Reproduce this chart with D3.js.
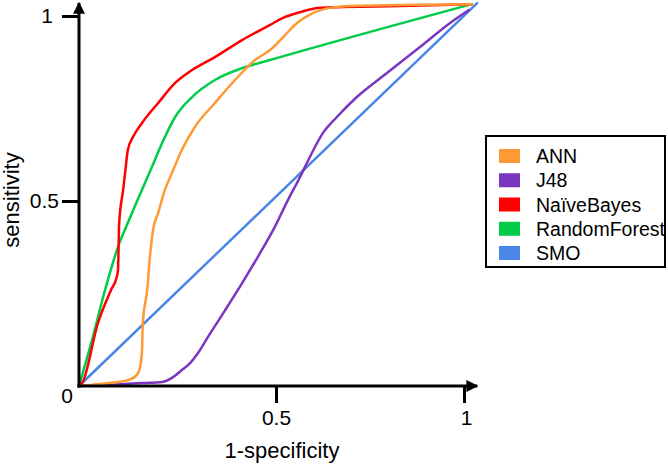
<!DOCTYPE html>
<html>
<head>
<meta charset="utf-8">
<script src="https://cdn.jsdelivr.net/npm/d3@7"></script>
<style>
  html, body { margin: 0; padding: 0; background: #fff; }
  svg { display: block; font-family: "Liberation Sans", Arial, sans-serif; }
</style>
</head>
<body>
<svg id="chart" width="668" height="468"></svg>
<script>
// ---- data ----
const seriesNames = ["ANN", "J48", "NaïveBayes", "RandomForest", "SMO"];
const seriesColors = ["#FF9933", "#7B36C0", "#FF0000", "#00CC4A", "#4A86E8"];

const annFpr = [0, 0.074, 0.124, 0.147, 0.155, 0.160, 0.162, 0.173, 0.180, 0.188, 0.201, 0.218, 0.236, 0.261, 0.294, 0.345, 0.396, 0.447, 0.485, 0.519, 0.556, 0.598, 0.644, 0.697, 1.021];
const annTpr = [0, 0.008, 0.016, 0.030, 0.051, 0.097, 0.170, 0.259, 0.349, 0.422, 0.468, 0.530, 0.576, 0.638, 0.700, 0.765, 0.827, 0.881, 0.908, 0.943, 0.981, 1.008, 1.022, 1.027, 1.032];

const j48Fpr = [0, 0.074, 0.160, 0.211, 0.236, 0.261, 0.282, 0.302, 0.327, 0.371, 0.414, 0.454, 0.497, 0.532, 0.564, 0.590, 0.625, 0.662, 0.715, 0.795, 0.883, 0.963, 1.013];
const j48Tpr = [0, 0.003, 0.008, 0.011, 0.022, 0.043, 0.062, 0.089, 0.132, 0.205, 0.278, 0.349, 0.430, 0.503, 0.565, 0.619, 0.684, 0.727, 0.781, 0.846, 0.916, 0.981, 1.016];

const nbFpr = [0, 0.008, 0.048, 0.081, 0.096, 0.099, 0.102, 0.112, 0.117, 0.124, 0.137, 0.160, 0.201, 0.244, 0.287, 0.345, 0.414, 0.485, 0.519, 0.556, 0.617, 0.678, 0.830, 1.021];
const nbTpr = [0, 0.008, 0.170, 0.259, 0.295, 0.314, 0.441, 0.530, 0.576, 0.638, 0.673, 0.711, 0.765, 0.819, 0.854, 0.889, 0.935, 0.976, 0.995, 1.008, 1.022, 1.024, 1.027, 1.032];

const rfFpr = [0, 0.033, 0.066, 0.099, 0.124, 0.152, 0.185, 0.218, 0.244, 0.287, 0.345, 0.414, 0.485, 1.021];
const rfTpr = [0, 0.124, 0.259, 0.376, 0.441, 0.511, 0.592, 0.673, 0.727, 0.781, 0.827, 0.859, 0.881, 1.032];

const smoFpr = [0, 1.035];
const smoTpr = [0, 1.035];

const xTicks = [0.5, 1];
const yTicks = [0.5, 1];
const xLabel = "1-specificity";
const yLabel = "sensitivity";
const originLabel = "0";

// ---- build ----
const series = [
  { name: seriesNames[0], color: seriesColors[0], fpr: annFpr, tpr: annTpr },
  { name: seriesNames[1], color: seriesColors[1], fpr: j48Fpr, tpr: j48Tpr },
  { name: seriesNames[2], color: seriesColors[2], fpr: nbFpr, tpr: nbTpr },
  { name: seriesNames[3], color: seriesColors[3], fpr: rfFpr, tpr: rfTpr },
  { name: seriesNames[4], color: seriesColors[4], fpr: smoFpr, tpr: smoTpr }
];

const svg = d3.select("#chart");
const x = d3.scaleLinear().domain([0, 0.5, 1]).range([79, 276, 464]);
const y = d3.scaleLinear().domain([0, 0.5, 1]).range([386, 201, 16]);

const FONT = 21;

// series lines (draw order: SMO, J48, RandomForest, NaiveBayes, ANN)
const line = d3.line().x(d => x(d[0])).y(d => y(d[1])).curve(d3.curveMonotoneX);
const drawOrder = [4, 1, 3, 2, 0];
const gLines = svg.append("g");
drawOrder.forEach(i => {
  const s = series[i];
  const pts = s.fpr.map((v, k) => [v, s.tpr[k]]);
  gLines.append("path")
    .attr("d", line(pts))
    .attr("fill", "none")
    .attr("stroke", s.color)
    .attr("stroke-width", 2.5)
    .attr("stroke-linejoin", "round")
    .attr("stroke-linecap", "round");
});

// arrow marker
svg.append("defs").append("marker")
  .attr("id", "arrow")
  .attr("viewBox", "0 0 10 10")
  .attr("refX", 9).attr("refY", 5)
  .attr("markerWidth", 4).attr("markerHeight", 4)
  .attr("markerUnits", "strokeWidth")
  .attr("orient", "auto")
  .append("path").attr("d", "M0,0 L10,5 L0,10 z").attr("fill", "#000");

// axes
const xAxis = d3.axisBottom(x).tickValues(xTicks).tickFormat(d3.format("")).tickSize(17).tickPadding(7).tickSizeOuter(0);
const yAxis = d3.axisLeft(y).tickValues(yTicks).tickFormat(d3.format("")).tickSize(17).tickPadding(3).tickSizeOuter(0);

const gx = svg.append("g").attr("transform", `translate(0,${y(0)})`).call(xAxis);
const gy = svg.append("g").attr("transform", `translate(${x(0)},0)`).call(yAxis);
[gx, gy].forEach(g => {
  g.select(".domain").remove();
  g.selectAll(".tick line").attr("stroke", "#000").attr("stroke-width", 3);
  g.selectAll(".tick text").attr("fill", "#000").style("font-size", FONT + "px")
    .style("font-family", "'Liberation Sans', Arial, sans-serif");
});
// the "1" label on the y axis sits further from its tick in the reference
gy.selectAll(".tick text").filter(d => d === 1).attr("x", -26);
gx.selectAll(".tick text").filter(d => d === 1).attr("dx", 2);

svg.append("line")
  .attr("x1", x(0) - 1.5).attr("y1", y(0))
  .attr("x2", x(1.035)).attr("y2", y(0))
  .attr("stroke", "#000").attr("stroke-width", 3)
  .attr("marker-end", "url(#arrow)");
svg.append("line")
  .attr("x1", x(0)).attr("y1", y(0) + 1.5)
  .attr("x2", x(0)).attr("y2", y(1.035))
  .attr("stroke", "#000").attr("stroke-width", 3)
  .attr("marker-end", "url(#arrow)");

// origin label
svg.append("text").attr("x", 67).attr("y", 403)
  .attr("text-anchor", "middle").style("font-size", FONT + "px").text(originLabel);

// axis titles
svg.append("text").attr("x", 282).attr("y", 458)
  .attr("text-anchor", "middle").style("font-size", "22px").text(xLabel);
svg.append("text")
  .attr("transform", `translate(19,200) rotate(-90)`)
  .attr("text-anchor", "middle").style("font-size", "22px").text(yLabel);

// legend
const legend = svg.append("g");
legend.append("rect")
  .attr("x", 486).attr("y", 136).attr("width", 179).attr("height", 131)
  .attr("fill", "#fff").attr("stroke", "#000").attr("stroke-width", 2);
const legendY = d3.scalePoint().domain(seriesNames).range([156, 253]);
series.forEach(s => {
  const cy = legendY(s.name);
  legend.append("rect").attr("x", 499).attr("y", cy - 7).attr("width", 21).attr("height", 14).attr("fill", s.color);
  legend.append("text").attr("x", 536).attr("y", cy).attr("dy", "0.36em")
    .style("font-size", "19.5px").text(s.name);
});
</script>
</body>
</html>
